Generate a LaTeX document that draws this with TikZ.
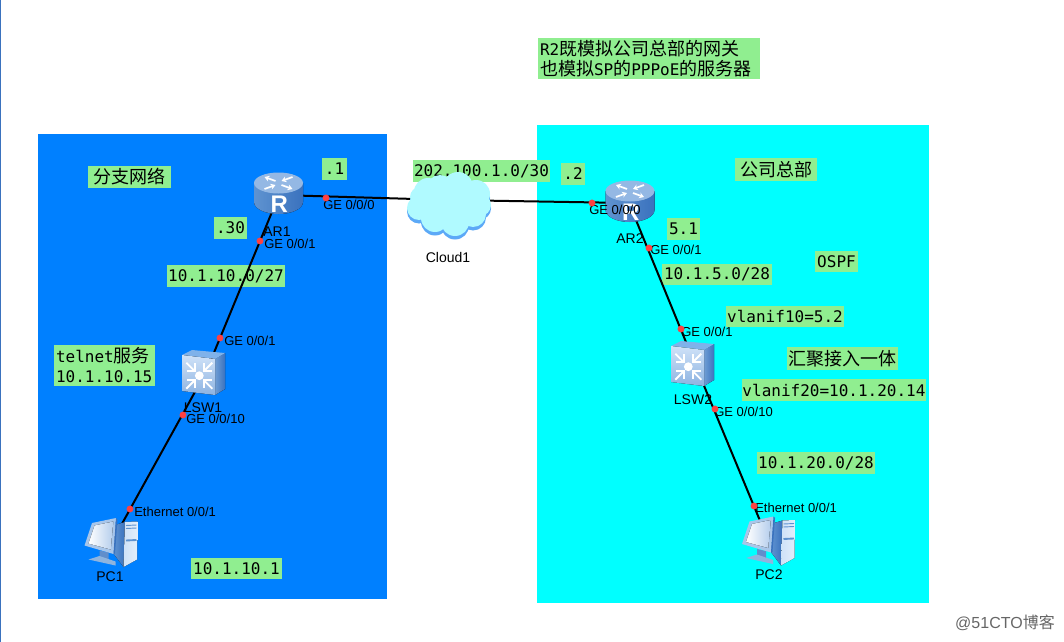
\documentclass[tikz,border=0pt]{standalone}
\usepackage{fontspec}
\setmainfont{Liberation Sans}
\newfontfamily\monof{DejaVu Sans Mono}
\newfontfamily\cjkf{Noto Sans CJK SC}
\usetikzlibrary{arrows.meta}
\definecolor{lblgreen}{HTML}{90EE90}
\definecolor{lanblue}{HTML}{0080FF}
\definecolor{lancyan}{HTML}{00FFFF}
\definecolor{wire}{HTML}{000000}
\definecolor{portred}{HTML}{FF4040}
\definecolor{rA}{HTML}{A8C6EA}
\definecolor{rB}{HTML}{5F93D0}
\definecolor{rC}{HTML}{3A72BE}
\definecolor{rD}{HTML}{94B8E4}
\definecolor{rE}{HTML}{7FB2EA}
\definecolor{rF}{HTML}{CFE2F8}
\definecolor{cloudtop}{HTML}{B0FAFF}
\definecolor{cloudshade}{HTML}{5CA9F7}
\newcommand{\cj}[1]{{\cjkf\fontsize{13.5}{15}\selectfont #1}}
% green label: [options]{name}{x1}{y1}{x2}{y2}{text}
\newcommand{\glab}[7][]{%
  \node[glabel,minimum width={(#5-#3)*0.75pt},minimum height={(#6-#4)*0.75pt},#1] (#2) at ({(#3+#5)/2},{(#4+#6)/2}) {#7};}
\tikzset{
  glabel/.style={fill=lblgreen,inner sep=0pt,font=\monof\fontsize{12}{15}\selectfont},
  port/.style={font=\fontsize{9.75}{11}\selectfont,anchor=west,inner sep=0pt},
  devname/.style={font=\fontsize{10.5}{12}\selectfont,inner sep=0pt},
  portdot/.style={circle,fill=portred,inner sep=0pt,minimum size=5.2pt},
  link/.style={draw=wire,line width=1.5pt},
  anchorpt/.style={inner sep=0pt,minimum size=0pt},
  whitearrow/.style={draw=white,line width=1.3pt,-{Stealth[length=3.6pt,width=4.4pt]}},
  chevron/.style={draw=white,line width=1.35pt,line cap=butt,line join=miter},
  routerpic/.pic={
    \fill[left color=rB,middle color=rE,right color=rC] (-24.5,-10) -- (-24.5,9) arc[start angle=180,end angle=360,x radius=24.5*0.75pt,y radius=12*0.75pt] -- (24.5,-10) -- cycle;
    \fill[rD] (0,-10) ellipse[x radius=24.5*0.75pt,y radius=10.5*0.75pt];
    \draw[whitearrow] (-3,-12) -- (-14,-16);
    \draw[whitearrow] (14,-16) -- (3,-12);
    \draw[whitearrow] (-14,-4) -- (-3,-8);
    \draw[whitearrow] (3,-8) -- (14,-4);
    \node[text=white,inner sep=0pt,font=\fontsize{18}{20}\selectfont\bfseries] at (0.7,11.7) {R};
  },
  switchpic/.pic={
    \fill[left color=rB!90!white,right color=rC] (11,-13) -- (21,-19) -- (21,17) -- (11,23) -- cycle;
    \fill[rE] (-22,-17) -- (-12,-22) -- (21,-19) -- (11,-13) -- cycle;
    \fill[shading angle=150,top color=rF,bottom color=rD!85!rB] (-22,-17) -- (11,-13) -- (11,23) -- (-22,19) -- cycle;
    \fill[white] (-4.7,3.7) circle[radius=3.3pt];
    \foreach \sx/\sy in {-1/-1,1/-1,-1/1,1/1}{
      \draw[chevron] ({-4.7+\sx*13},{3.7+\sy*13}) -- ({-4.7+\sx*4.5},{3.7+\sy*4.5});
      \draw[chevron] ({-4.7+\sx*12.5},{3.7+\sy*4.5}) -- ({-4.7+\sx*4.5},{3.7+\sy*4.5}) -- ({-4.7+\sx*4.5},{3.7+\sy*12.5});
    }
  },
  pcpic/.pic={
    \fill[left color=rB,right color=rC] (4.5,-16.5) -- (14.5,-19.5) -- (13,25.5) -- (3,12) -- cycle;
    \fill[left color=rF,right color=rF!60!white] (14.5,-19.5) -- (27,-20) -- (26.5,18) -- (13,25.5) -- cycle;
    \draw[rB,line width=.7pt] (15.5,-16) -- (26,-16.5) (15.5,-13) -- (26,-13.5);
    \draw[rB,line width=1.4pt] (15.5,-1) -- (26,-1.5);
    \fill[rC!80!white] (-11,9) -- (-2,11) -- (-2,19) -- (-11,17) -- cycle;
    \fill[rB!70!white] (-22,18) -- (-11,14.5) -- (5,20) -- (5,24) -- cycle;
    \fill[rA] (-26,4) -- (-18.5,-18.5) -- (5.5,-23.5) -- (3,12.5) -- cycle;
    \fill[rC] (5.5,-23.5) -- (7,-22) -- (4.5,12) -- (3,12.5) -- cycle;
    \fill[left color=white,right color=rD!70!white] (-22,2) -- (-16,-16) -- (2.8,-20) -- (0.2,8) -- cycle;
  },
}
\begin{document}
\begin{tikzpicture}[x=0.75pt,y=-0.75pt]
\useasboundingbox (0,0) rectangle (1064,642);
\fill[white] (0,0) rectangle (1064,642);
\draw[draw=rC,line width=.75pt] (0.5,0) -- (0.5,642);
% network areas
\fill[lanblue] (38,134) rectangle (387,599);
\fill[lancyan] (537,125) rectangle (929,603);
% green labels
\glab[align=left,text width=218*0.75pt]{note}{538}{38}{760}{79}{R2\cj{既模拟公司总部的网关}\\\cj{也模拟}SP\cj{的}PPPoE\cj{的服务器}}
\glab{dotone}{322}{158}{347}{180}{.1}
\glab{branch}{88}{166}{171}{188}{\cj{分支网络}}
\glab{wan}{413}{160}{550}{182}{202.100.1.0/30}
\glab{dottwo}{561}{163}{585}{185}{.2}
\glab{hq}{735}{158}{817}{181}{\cj{公司总部}}
\glab{dotthirty}{214}{217}{247}{239}{.30}
\glab{netone}{167}{265}{285}{287}{10.1.10.0/27}
\glab{fiveone}{667}{218}{700}{240}{5.1}
\glab{netfive}{662}{264}{772}{285}{10.1.5.0/28}
\glab{ospf}{815}{251}{858}{272}{OSPF}
\glab{vlanten}{726}{306}{844}{327}{vlanif10=5.2}
\glab{converge}{787}{347}{898}{370}{\cj{汇聚接入一体}}
\glab{vlantwenty}{742}{379}{926}{401}{vlanif20=10.1.20.14}
\glab{nettwenty}{757}{452}{875}{474}{10.1.20.0/28}
\glab[align=left,text width=97*0.75pt]{telnet}{54}{345}{155}{386}{telnet\cj{服务}\\10.1.10.15}
\glab{pcip}{191}{558}{282}{579}{10.1.10.1}
% device anchors
\node[anchorpt] (AR1) at (279,195) {};
\node[anchorpt] (AR2) at (629,203) {};
\node[anchorpt] (Cloud) at (449,200) {};
\node[anchorpt] (LSW1) at (206,372) {};
\node[anchorpt] (LSW2) at (695,364) {};
\node[anchorpt] (PC1) at (113,540) {};
\node[anchorpt] (PC2) at (768,540) {};
% links
\draw[link] (AR1.center) -- (Cloud.center);
\draw[link] (Cloud.center) -- (AR2.center);
\draw[link] (AR1.center) -- (LSW1.center);
\draw[link] (LSW1.center) -- (PC1.center);
\draw[link] (AR2.center) -- (LSW2.center);
\draw[link] (LSW2.center) -- (PC2.center);
% cloud
\begin{scope}[shift={(449,205)}]
  \fill[cloudshade] (0,1.5) ellipse[x radius=34*0.75pt,y radius=24*0.75pt];
  \foreach \cx/\cy/\cr in {-21/-13/14,9/-18/15,-9/-17/13,27/-11/14,31/0/11,24/9/13,6/17/14,-14/13/14,-30/3/12,-29/-8/10}{
    \fill[cloudshade] (\cx,\cy+3.5) circle[radius=\cr*0.75pt];
  }
  \fill[cloudtop] (0,-2) ellipse[x radius=34*0.75pt,y radius=24*0.75pt];
  \foreach \cx/\cy/\cr in {-21/-13/14,9/-18/15,-9/-17/13,27/-11/14,31/0/11,24/9/13,6/17/14,-14/13/14,-30/3/12,-29/-8/10}{
    \fill[cloudtop] (\cx,\cy) circle[radius=\cr*0.75pt];
  }
\end{scope}
% device icons
\pic at (278.5,193) {routerpic};
\pic at (630,201) {routerpic};
\pic at (204,372) {switchpic};
\pic at (693,363) {switchpic};
\pic at (110.5,541.5) {pcpic};
\pic at (768,540) {pcpic};
% device names
\node[devname] (nAR1) at (277,232) {AR1};
\node[devname] (nAR2) at (630,239) {AR2};
\node[devname] (nCloud) at (448,257) {Cloud1};
\node[devname] (nLSW1) at (203,408) {LSW1};
\node[devname] (nLSW2) at (693,400) {LSW2};
\node[devname] (nPC1) at (110,577) {PC1};
\node[devname] (nPC2) at (769,575) {PC2};
% port labels
\node[port] (p1) at (323,205) {GE 0/0/0};
\node[port] (p2) at (264,244) {GE 0/0/1};
\node[port] (p3) at (224,341) {GE 0/0/1};
\node[port] (p4) at (186,419) {GE 0/0/10};
\node[port] (p5) at (134,512) {Ethernet 0/0/1};
\node[port] (p6) at (589,210) {GE 0/0/0};
\node[port] (p7) at (650,250) {GE 0/0/1};
\node[port] (p8) at (681,332) {GE 0/0/1};
\node[port] (p9) at (714,412) {GE 0/0/10};
\node[port] (p10) at (755,508) {Ethernet 0/0/1};
% port dots
\node[portdot] (d1) at (326,198) {};
\node[portdot] (d2) at (260,241) {};
\node[portdot] (d3) at (220,338) {};
\node[portdot] (d4) at (183,415) {};
\node[portdot] (d5) at (130,509) {};
\node[portdot] (d6) at (592,203) {};
\node[portdot] (d7) at (649,248) {};
\node[portdot] (d8) at (681,329) {};
\node[portdot] (d9) at (715,409) {};
\node[portdot] (d10) at (754,506) {};
% watermark
\node[inner sep=0pt,text=black!60,font=\fontsize{12}{14}\selectfont] (mark) at (1005,623) {@51CTO\cj{\fontsize{12}{14}\selectfont 博客}};
\end{tikzpicture}
\end{document}
